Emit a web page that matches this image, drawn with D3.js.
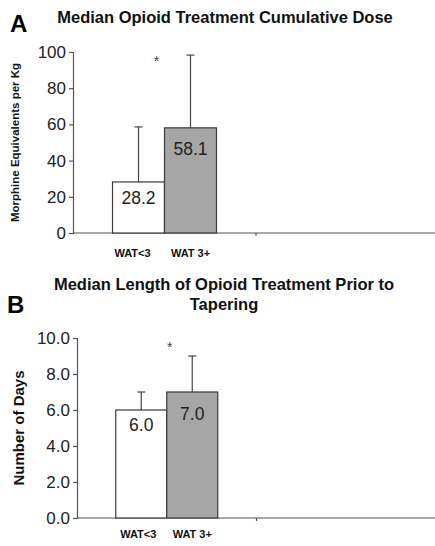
<!DOCTYPE html>
<html>
<head>
<meta charset="utf-8">
<script src="https://cdn.jsdelivr.net/npm/d3@7"></script>
<style>
  body { margin: 0; background: #fff; }
  svg { display: block; font-family: "Liberation Sans", Arial, sans-serif; }
</style>
</head>
<body>
<div id="chart"></div>
<script>
// data
const seriesNames = ['WAT<3', 'WAT 3+'];
const seriesFill = ['#ffffff', '#a6a6a6'];

const doseMedian = [28.2, 58.1];
const doseUpper = [58.6, 98.3];
const doseTicks = [0, 20, 40, 60, 80, 100];

const daysMedian = [6.0, 7.0];
const daysUpper = [7.0, 9.0];
const daysTicks = [0, 2, 4, 6, 8, 10];

const width = 435;
const height = 546;

const svg = d3.select('#chart')
    .append('svg')
    .attr('width', width)
    .attr('height', height);

function drawPanel(p) {
  const g = svg.append('g');

  const y = d3.scaleLinear().domain([0, p.max]).range([p.y0, p.y1]);
  // two category slots, only the first one holds bars (like the excel original)
  const x = d3.scaleBand().domain([0, 1]).range([p.left, p.left + 2 * p.slot]);
  const xs = d3.scaleBand().domain(seriesNames).range([0, x.bandwidth()])
      .paddingInner(0).paddingOuter(0.76);

  // y axis
  const yAxis = d3.axisLeft(y).tickValues(p.ticks).tickSize(4).tickFormat(p.fmt);
  const ya = g.append('g')
      .attr('transform', 'translate(' + p.left + ',0)')
      .call(yAxis);
  ya.select('.domain').attr('stroke', '#555').attr('stroke-width', 1.2);
  ya.selectAll('.tick line').attr('stroke', '#555').attr('stroke-width', 1.2);
  ya.selectAll('.tick text')
      .attr('x', -7)
      .attr('fill', '#222')
      .style('font-size', '17px');

  // x axis line with a tick between the category slots
  g.append('line')
      .attr('x1', p.left).attr('x2', width)
      .attr('y1', p.y0).attr('y2', p.y0)
      .attr('stroke', '#555').attr('stroke-width', 1.2);
  g.append('line')
      .attr('x1', x(1)).attr('x2', x(1))
      .attr('y1', p.y0).attr('y2', p.y0 + 3)
      .attr('stroke', '#555').attr('stroke-width', 1.2);

  const bars = seriesNames.map((name, i) => ({
    name: name, value: p.median[i], upper: p.upper[i], fill: seriesFill[i], i: i
  }));

  // error bars (upper only)
  const cap = 4;
  bars.forEach(d => {
    const cx = x(0) + xs(d.name) + xs.bandwidth() / 2;
    g.append('line')
        .attr('x1', cx).attr('x2', cx)
        .attr('y1', y(d.value)).attr('y2', y(d.upper))
        .attr('stroke', '#444').attr('stroke-width', 1.2);
    g.append('line')
        .attr('x1', cx - cap).attr('x2', cx + cap)
        .attr('y1', y(d.upper)).attr('y2', y(d.upper))
        .attr('stroke', '#444').attr('stroke-width', 1.2);
  });

  g.selectAll('rect.bar')
      .data(bars)
      .enter()
      .append('rect')
      .attr('class', 'bar')
      .attr('x', d => x(0) + xs(d.name))
      .attr('y', d => y(d.value))
      .attr('width', xs.bandwidth())
      .attr('height', d => y(0) - y(d.value))
      .attr('fill', d => d.fill)
      .attr('stroke', '#3a3a3a')
      .attr('stroke-width', 1.2);

  // value labels inside the bars
  g.selectAll('text.val')
      .data(bars)
      .enter()
      .append('text')
      .attr('class', 'val')
      .attr('x', d => x(0) + xs(d.name) + xs.bandwidth() / 2)
      .attr('y', d => y(d.value) + p.labelDy[d.i])
      .attr('text-anchor', 'middle')
      .attr('fill', '#222')
      .style('font-size', '17.5px')
      .text(d => d.value.toFixed(1));

  // category labels
  g.selectAll('text.cat')
      .data(bars)
      .enter()
      .append('text')
      .attr('class', 'cat')
      .attr('x', d => x(0) + xs(d.name) + xs.bandwidth() / 2 + p.catDx[d.i])
      .attr('y', p.catY)
      .attr('text-anchor', 'middle')
      .attr('fill', '#111')
      .style('font-size', '11px')
      .style('font-weight', 'bold')
      .text(d => d.name);

  // significance mark
  g.append('text')
      .attr('x', x(0) + x.bandwidth() / 2 + p.starDx)
      .attr('y', y(p.starY))
      .attr('text-anchor', 'middle')
      .attr('fill', '#444')
      .style('font-size', '14px')
      .text('*');

  // titles
  const t = g.append('text')
      .attr('text-anchor', 'middle')
      .attr('fill', '#111')
      .style('font-size', '16.5px')
      .style('font-weight', 'bold');
  p.title.forEach((line, i) => {
    t.append('tspan')
        .attr('x', p.titleX)
        .attr('y', p.titleY + i * 20)
        .text(line);
  });

  g.append('text')
      .attr('x', p.letterX)
      .attr('y', p.letterY)
      .attr('fill', '#000')
      .style('font-size', '24px')
      .style('font-weight', 'bold')
      .text(p.letter);

  g.append('text')
      .attr('transform', 'translate(' + p.ytX + ',' + ((p.y0 + p.y1) / 2) + ') rotate(-90)')
      .attr('text-anchor', 'middle')
      .attr('dominant-baseline', 'central')
      .attr('fill', '#111')
      .style('font-size', p.ytSize)
      .style('font-weight', 'bold')
      .text(p.ytitle);
}

drawPanel({
  letter: 'A', letterX: 10, letterY: 32,
  title: ['Median Opioid Treatment Cumulative Dose'], titleX: 225, titleY: 23,
  ytitle: 'Morphine Equivalents per Kg', ytX: 15, ytSize: '11.5px',
  max: 100, ticks: doseTicks, fmt: d3.format('d'),
  median: doseMedian, upper: doseUpper,
  left: 73, slot: 183, y0: 233, y1: 52,
  labelDy: [22, 27], catDx: [-6, 0], catY: 257,
  starDx: -8, starY: 92.5
});

drawPanel({
  letter: 'B', letterX: 7, letterY: 313,
  title: ['Median Length of Opioid Treatment Prior to', 'Tapering'], titleX: 224, titleY: 290,
  ytitle: 'Number of Days', ytX: 18, ytSize: '15px',
  max: 10, ticks: daysTicks, fmt: d3.format('.1f'),
  median: daysMedian, upper: daysUpper,
  left: 77, slot: 179.5, y0: 518, y1: 338,
  labelDy: [21, 28], catDx: [-3, 0], catY: 538,
  starDx: 3, starY: 9.25
});
</script>
</body>
</html>
